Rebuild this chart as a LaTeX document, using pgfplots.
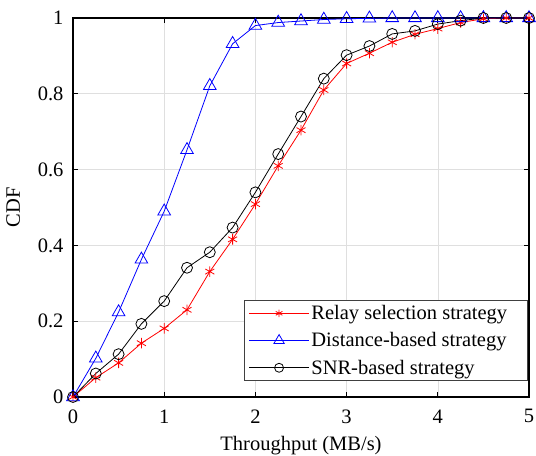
\documentclass[border=0pt]{standalone}
\usepackage{pgfplots}
\pgfplotsset{compat=1.18}
\usepackage{fontspec}
\setmainfont{Liberation Serif}
\begin{document}
\begin{tikzpicture}
\begin{axis}[name=ax,
  width=456pt, height=379pt, scale only axis,
  xmin=0, xmax=5, ymin=0, ymax=1,
  xtick={0,1,2,3,4,5}, ytick={0,0.2,0.4,0.6,0.8,1},
  xticklabels={0,1,2,3,4,5},
  yticklabels={0,0.2,0.4,0.6,0.8,1},
  tick label style={font=\fontsize{20.5}{24}\selectfont},
  label style={font=\fontsize{20.5}{24}\selectfont},
  yticklabel style={xshift=-6pt},
  xticklabel style={yshift=-9pt},
  xlabel={Throughput (MB/s)}, ylabel={CDF},
  xlabel style={yshift=-6pt}, ylabel style={yshift=11pt},
  grid=major, grid style={gray!25, line width=0.6pt},
  tick align=inside, major tick length=5pt,
  axis line style={line width=1.4pt},
  tick style={black, line width=0.9pt},
  legend style={at={(0.997,0.042)}, anchor=south east,
    font=\fontsize{20.5}{24}\selectfont, draw=black!75, line width=0.9pt,
    inner xsep=4pt, inner ysep=3pt, row sep=7.5pt},
  legend cell align=left,
  legend image code/.code={\draw[mark repeat=2,mark phase=2] plot coordinates {(0cm,0cm) (1.05cm,0cm) (2.1cm,0cm)};},
]
\addlegendimage{red, line width=0.8pt, mark=asterisk, mark size=3.8pt}
\addlegendentry{Relay selection strategy\rule{14pt}{0pt}}
\addlegendimage{blue, line width=0.8pt, mark=triangle, mark size=6pt}
\addlegendentry{Distance-based strategy}
\addlegendimage{black, line width=0.8pt, mark=o, mark size=4.5pt}
\addlegendentry{SNR-based strategy}
\addplot[forget plot, red, line width=0.8pt, mark=asterisk, mark size=5.2pt, mark options={line width=0.8pt}] coordinates {
(0,0) (0.25,0.051) (0.5,0.09) (0.75,0.142) (1,0.181) (1.25,0.23) (1.5,0.331) (1.75,0.416) (2,0.509) (2.25,0.61) (2.5,0.704) (2.75,0.81) (3,0.88) (3.25,0.907) (3.5,0.936) (3.75,0.957) (4,0.972) (4.25,0.988) (4.5,0.998) (4.75,1) (5,1)};
\addplot[forget plot, blue, line width=0.8pt, mark=triangle, mark size=7.3pt, mark options={line width=0.8pt}] coordinates {
(0,0) (0.25,0.102) (0.5,0.224) (0.75,0.363) (1,0.49) (1.25,0.652) (1.5,0.821) (1.75,0.932) (2,0.98) (2.25,0.988) (2.5,0.992) (2.75,0.996) (3,0.998) (3.25,0.999) (3.5,1) (3.75,1) (4,1) (4.25,1) (4.5,1) (4.75,1) (5,1)};
\addplot[forget plot, black, line width=0.8pt, mark=o, mark size=5.5pt, mark options={line width=0.8pt}] coordinates {
(0,0) (0.25,0.062) (0.5,0.113) (0.75,0.193) (1,0.253) (1.25,0.341) (1.5,0.382) (1.75,0.447) (2,0.54) (2.25,0.641) (2.5,0.74) (2.75,0.84) (3,0.902) (3.25,0.926) (3.5,0.958) (3.75,0.966) (4,0.984) (4.25,0.993) (4.5,1) (4.75,1) (5,1)};
\end{axis}
\pgfresetboundingbox
\path[use as bounding box] ([shift={(-73pt,-58pt)}]ax.south west) rectangle ([shift={(7pt,18pt)}]ax.north east);
\end{tikzpicture}
\end{document}
